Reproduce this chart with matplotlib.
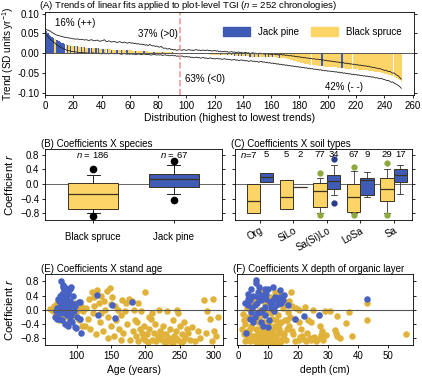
import matplotlib.pyplot as plt
from matplotlib.patches import Patch
import numpy as np

plt.rcParams['font.family'] = ['Liberation Sans', 'DejaVu Sans']
plt.rcParams['mathtext.fontset'] = 'custom'
plt.rcParams['mathtext.rm'] = 'Liberation Sans'
plt.rcParams['mathtext.it'] = 'Liberation Sans:italic'
plt.rcParams['axes.linewidth'] = 0.6
plt.rcParams['xtick.major.width'] = 0.6
plt.rcParams['ytick.major.width'] = 0.6
plt.rcParams['xtick.major.size'] = 2.5
plt.rcParams['ytick.major.size'] = 2.5

# ---- (A) sorted trends, 1e-3 SD units per year ----
trend = [55, 51, 47, 44, 41, 38, 36, 34, 32, 30,
         28, 26, 25, 23, 22, 21, 20, 19, 19, 18,
         18, 17, 17, 16, 16, 15, 15, 15, 14, 14,
         14, 13, 13, 13, 12, 12, 12, 12, 11, 11,
         11, 11, 10, 10, 10, 10, 9, 9, 9, 9,
         9, 8, 8, 8, 8, 8, 7, 7, 7, 7,
         7, 6, 6, 6, 6, 6, 5, 5, 5, 5,
         5, 5, 4, 4, 4, 4, 4, 4, 3, 3,
         3, 3, 3, 3, 2, 2, 2, 2, 2, 2,
         1, 1, 1, 1, 0, 0, -1, -1, -1, -1,
         -1, -1, -2, -2, -2, -2, -2, -2, -2, -3,
         -3, -3, -3, -3, -3, -3, -4, -4, -4, -4,
         -4, -4, -4, -5, -5, -5, -5, -5, -6, -6,
         -6, -6, -6, -7, -7, -7, -7, -7, -8, -8,
         -8, -8, -8, -8, -9, -9, -9, -9, -9, -9,
         -10, -10, -10, -10, -10, -10, -10, -11, -11, -11,
         -11, -11, -11, -12, -12, -12, -12, -12, -13, -13,
         -14, -15, -16, -17, -18, -19, -20, -21, -22, -23,
         -24, -25, -26, -27, -27, -28, -29, -29, -30, -30,
         -31, -31, -32, -32, -33, -33, -33, -34, -34, -34,
         -35, -35, -35, -36, -36, -36, -37, -37, -37, -38,
         -38, -38, -39, -39, -39, -40, -40, -40, -41, -41,
         -41, -42, -42, -43, -43, -43, -44, -44, -45, -45,
         -46, -46, -47, -47, -48, -48, -49, -50, -51, -52,
         -53, -54, -55, -56, -57, -58, -60, -61, -63, -65,
         -68, -72]
upper = [60, 58, 57, 55, 52, 50, 48, 46, 45, 44,
         43, 42, 41, 40, 40, 39, 38, 38, 37, 36,
         36, 35, 36, 35, 34, 35, 34, 33, 34, 33,
         32, 33, 34, 32, 31, 32, 33, 31, 30, 31,
         32, 34, 30, 29, 31, 30, 28, 29, 30, 28,
         27, 28, 29, 27, 26, 28, 27, 25, 26, 27,
         25, 26, 24, 25, 23, 24, 22, 23, 21, 22,
         20, 21, 19, 22, 20, 18, 19, 17, 18, 16,
         15, 17, 14, 12, 13, 11, 10, 12, 9, 10,
         8, 9, 7, 8, 9, 8, 7, 9, 8, 7,
         8, 9, 7, 8, 6, 8, 9, 7, 8, 6,
         7, 8, 6, 7, 8, 6, 7, 5, 6, 7,
         5, 6, 4, 5, 3, 4, 5, 3, 4, 2,
         3, 4, 2, 3, 1, 2, 3, 1, 2, 0,
         1, 2, 0, 1, -1, 0, 1, -1, 0, -2,
         -1, 0, -2, -1, -3, -2, -1, -3, -2, -4,
         -3, -2, -4, -3, -5, -4, -3, -5, -4, -6,
         -5, -6, -7, -6, -8, -7, -9, -8, -10, -9,
         -11, -10, -12, -11, -13, -12, -14, -13, -15, -14,
         -15, -16, -15, -17, -16, -18, -17, -19, -18, -20,
         -19, -21, -20, -22, -21, -23, -22, -24, -23, -25,
         -24, -26, -25, -27, -26, -28, -27, -29, -28, -30,
         -29, -31, -30, -32, -31, -33, -32, -34, -33, -35,
         -35, -37, -36, -38, -38, -40, -39, -41, -42, -44,
         -43, -45, -47, -46, -49, -51, -50, -54, -56, -58,
         -62, -66]
lower = [46, 42, 38, 34, 31, 28, 25, 22, 19, 17,
         15, 13, 11, 10, 8, 7, 6, 5, 4, 4,
         3, 3, 2, 2, 1, 2, 1, 0, 1, 0,
         0, -1, 0, 1, -1, 0, -1, 0, -1, -2,
         -1, 0, -2, -1, -2, -1, 0, -1, -2, -1,
         -2, -1, -2, -3, -2, -1, -2, -3, -2, -3,
         -2, -3, -2, -4, -3, -2, -3, -4, -3, -2,
         -3, -4, -3, -4, -5, -4, -3, -4, -5, -4,
         -5, -4, -6, -5, -4, -6, -5, -7, -6, -5,
         -7, -6, -8, -7, -9, -8, -7, -9, -10, -8,
         -10, -9, -11, -10, -12, -11, -10, -12, -11, -13,
         -12, -11, -13, -12, -14, -13, -12, -14, -13, -15,
         -14, -13, -15, -14, -16, -15, -14, -16, -15, -17,
         -16, -18, -17, -16, -18, -17, -19, -18, -17, -19,
         -18, -20, -19, -21, -20, -19, -21, -20, -22, -21,
         -23, -22, -21, -23, -22, -24, -23, -25, -24, -26,
         -25, -27, -26, -28, -27, -29, -28, -30, -29, -31,
         -30, -32, -31, -33, -32, -34, -33, -35, -34, -36,
         -35, -37, -36, -38, -37, -39, -38, -40, -39, -41,
         -40, -42, -41, -43, -42, -44, -43, -45, -44, -46,
         -45, -46, -47, -46, -48, -47, -49, -48, -50, -49,
         -51, -50, -52, -51, -53, -52, -54, -53, -55, -54,
         -56, -55, -57, -56, -58, -57, -59, -58, -60, -59,
         -61, -60, -62, -63, -62, -64, -65, -64, -66, -67,
         -68, -70, -69, -72, -74, -73, -76, -78, -80, -82,
         -85, -89]
# J = jack pine, B = black spruce, in sorted order
species_seq = ("JJJJJJBJJJJJJJB"
               "JBJBBJBJBBJBJBBJBJBBJBJBBJBBJBBJBBBJBBJBBBJBB"
               "BBBJBBBBBJBBBBBBJBBBBBJBBBBBBJBBBBB"
               "BBBBJBBBBBBJBBBBBBBBJBBBBBBBJBBBBJB"
               "BJBJBBJBJBBJBBJBBJBBJBBBBJBJBBJBBBBJBBBB"
               "BBBBBBBBBBBBBBBBBBBBBBBBBJBBBBBBBBBBBBBJBBBBBBBBBBBBBBBBBBBBBBBBBBBBBBBBBBBBBBBBBB")
pct_labels = ['16% (++)', '37% (>0)', '63% (<0)', '42% (- -)']

# ---- (B) coefficients by species ----
species_names = ['Black spruce', 'Jack pine']
sp_n = [186, 67]
sp_q1 = [-0.68, -0.08]
sp_med = [-0.28, 0.13]
sp_q3 = [0.03, 0.28]
sp_lo = [-0.80, -0.27]
sp_hi = [0.25, 0.52]
sp_fliers = [[0.40, -0.87], [0.63, -0.42]]

# ---- (C) coefficients by soil type ----
soil_types = ['Org', 'SiLo', 'Sa(Si)Lo', 'LoSa', 'Sa']
bs_n = [7, 5, 77, 67, 29]
bs_q1 = [-0.79, -0.69, -0.63, -0.75, -0.46]
bs_med = [-0.46, -0.36, -0.20, -0.34, -0.13]
bs_q3 = [0.00, 0.10, 0.02, 0.00, 0.18]
bs_lo = [-0.79, -0.69, -0.79, -0.79, -0.78]
bs_hi = [0.00, 0.10, 0.17, 0.36, 0.41]
bs_fliers = [[], [], [0.30, -0.84], [0.47, -0.84], [0.57, -0.84]]
jp_n = [5, 2, 34, 9, 17]
jp_q1 = [0.06, -0.09, -0.13, -0.30, 0.06]
jp_med = [0.20, -0.09, 0.09, 0.12, 0.24]
jp_q3 = [0.30, -0.09, 0.25, 0.18, 0.40]
jp_lo = [0.06, -0.09, -0.30, -0.36, -0.27]
jp_hi = [0.30, -0.09, 0.53, 0.33, 0.52]
jp_fliers = [[], [], [0.69, -0.52], [], []]

# ---- (E) coefficient vs stand age ----
age_bs = [62, 65, 67, 70, 72, 74, 76, 78, 80, 82,
          84, 86, 88, 90, 92, 94, 96, 98, 100, 102,
          104, 106, 108, 110, 75, 112, 114, 116, 118, 120,
          122, 124, 126, 128, 130, 132, 134, 136, 138, 140,
          142, 144, 146, 148, 150, 152, 154, 156, 158, 160,
          162, 164, 166, 168, 170, 172, 174, 176, 178, 180,
          135, 145, 125, 150, 165, 182, 184, 186, 188, 190,
          192, 194, 196, 198, 200, 202, 204, 206, 208, 210,
          212, 214, 216, 218, 220, 222, 224, 226, 228, 230,
          232, 234, 236, 238, 240, 242, 244, 246, 248, 250,
          252, 254, 256, 258, 260, 185, 195, 205, 215, 225,
          235, 245, 255, 190, 210, 230, 240, 200, 220, 248,
          262, 265, 268, 272, 276, 280, 285, 288, 290, 294,
          297, 300, 303, 306, 298]
r_age_bs = [0.02, -0.05, 0.10, -0.15, 0.20, -0.30, 0.05, -0.10, 0.30, -0.20,
            0.10, -0.40, 0.00, 0.15, -0.25, 0.05, -0.15, 0.20, -0.05, 0.00,
            -0.30, 0.10, -0.45, -0.05, 0.25, -0.45, 0.05, -0.25, 0.30, -0.55,
            0.50, -0.10, 0.35, -0.70, 0.55, 0.20, -0.35, 0.40, -0.60, 0.25,
            0.00, 0.52, -0.20, 0.60, -0.45, 0.35, -0.75, 0.10, -0.30, 0.00,
            -0.55, -0.15, 0.28, -0.65, -0.05, 0.20, -0.40, 0.30, -0.85, 0.25,
            -0.10, -0.80, 0.10, 0.15, -0.85, -0.60, 0.00, -0.75, -0.35, -0.90,
            -0.55, -0.05, -0.80, -0.45, 0.50, -0.70, -0.92, -0.55, -0.25, -0.85,
            -0.65, -0.40, -0.90, -0.75, 0.00, -0.60, -0.85, -0.45, -0.95, -0.70,
            -0.05, -0.80, -0.55, -0.90, -0.30, -0.75, -0.60, 0.00, -0.85, -0.45,
            -0.95, -0.70, -0.35, -0.80, -0.55, -0.30, -0.65, -0.20, -0.85, -0.70,
            -0.90, -0.80, -0.90, 0.20, -0.10, -0.85, -0.95, -0.85, -0.80, -0.10,
            -0.65, -0.85, -0.50, -0.90, -0.60, -0.80, 0.28, -0.65, -0.05, -0.25,
            -0.90, -0.60, -0.75, -0.20, 0.30]
age_jp = [78, 80, 82, 79, 85, 88, 90, 92, 95, 83,
          86, 75, 77, 72, 70, 68, 74, 81, 84, 87,
          89, 93, 96, 98, 76, 79, 83, 86, 90, 94,
          71, 73, 78, 82, 85, 88, 91, 97, 100, 104,
          106, 105, 98, 80, 84, 87, 92, 129, 131, 151,
          156, 180, 105, 99, 76, 81, 89]
r_age_jp = [0.80, 0.65, 0.55, 0.45, 0.62, 0.50, 0.58, 0.64, 0.40, 0.35,
            0.30, 0.25, 0.15, 0.05, -0.05, -0.20, -0.25, 0.10, 0.20, 0.05,
            -0.10, 0.15, -0.05, 0.10, 0.40, -0.30, -0.40, -0.15, -0.30, -0.35,
            -0.25, 0.30, 0.00, -0.10, 0.35, -0.45, 0.25, -0.50, -0.20, 0.22,
            -0.65, -0.25, 0.15, 0.70, -0.05, 0.45, -0.15, 0.42, -0.15, 0.13,
            -0.23, 0.23, 0.23, -0.53, -0.10, 0.28, 0.05]

# ---- (F) coefficient vs depth of organic layer ----
depth_bs = [56.1, 43, 43, 38.1, 36.9, 33.1, 36.1, 32.8, 32.2, 29.4,
            27.2, 24.4, 23.3, 22.2, 20.2, 20.2, 22.2, 20.6, 24.4, 26.7,
            27.8, 17.8, 16.7, 15.6, 15, 28.5, 25.5, 19, 18, 21,
            17, 19.5, 25, 30.5, 23, 1.5, 2, 2.5, 3, 3.2,
            3.5, 4, 4.2, 4.5, 5, 5.2, 5.5, 6, 6.2, 6.5,
            6.8, 7, 7.2, 7.5, 7.8, 8, 8.2, 8.5, 8.8, 9,
            9.2, 9.5, 9.8, 10, 10.2, 10.5, 10.8, 11, 11.2, 11.5,
            11.8, 12, 12.2, 12.5, 12.8, 13, 13.2, 13.5, 13.8, 14,
            14.2, 14.5, 14.8, 2.2, 3.8, 5.8, 7.6, 9.6, 11.6, 13.6,
            4.8, 6.6, 8.6, 10.6, 12.6, 14.6, 16, 16.5, 17.5, 18.5,
            3, 5, 9, 11, 13, 15, 16, 2, 7, 10,
            12, 8, 6, 4, 9.5, 15.5, 17, 18, 19, 14,
            11, 1.8, 8.4, 12.4, 16.2, 20.5, 21.5, 22.8, 24, 26,
            27, 29, 33, 34, 28]
r_depth_bs = [-0.68, 0.20, -0.30, -0.75, -0.07, -0.19, -0.37, -0.65, -0.58, -0.73,
              -0.46, -0.35, -0.30, 0.08, -0.02, -0.35, -0.87, -0.77, -0.87, -0.82,
              -0.73, 0.50, -0.07, -0.30, -0.77, -0.85, -0.78, -0.90, -0.60, -0.55,
              -0.45, 0.05, 0.00, -0.05, -0.65, -0.55, -0.68, -0.40, -0.80, -0.20,
              -0.60, -0.90, -0.45, 0.10, -0.75, -0.30, -0.85, -0.55, 0.30, -0.95,
              -0.65, -0.20, -0.80, 0.00, -0.50, -0.92, -0.70, 0.40, -0.35, -0.85,
              -0.60, -0.10, -0.95, -0.75, -0.40, 0.20, -0.88, -0.65, -0.25, -0.92,
              -0.55, 0.10, -0.80, -0.45, -0.95, -0.70, -0.15, -0.85, -0.55, 0.45,
              -0.90, -0.35, -0.65, -0.90, -0.70, -0.88, -0.60, -0.50, -0.78, -0.40,
              -0.20, -0.35, -0.15, -0.58, -0.28, 0.15, -0.85, -0.55, -0.20, -0.70,
              0.05, 0.25, 0.15, 0.35, 0.30, 0.05, 0.20, -0.30, -0.90, -0.93,
              -0.92, -0.82, -0.75, -0.55, -0.80, -0.70, 0.25, 0.10, -0.25, -0.92,
              -0.10, -0.12, 0.55, 0.50, -0.30, -0.85, -0.75, -0.90, -0.80, -0.88,
              -0.15, -0.05, -0.75, -0.80, -0.60]
depth_jp = [5.9, 6, 4.4, 3.3, 3.3, 2.8, 5, 6.7, 7.8, 8.9,
            10, 11.7, 13.9, 12.2, 10.6, 8.9, 7.2, 5.6, 7.8, 10,
            4.4, 3.9, 5.6, 13.3, 15, 16.7, 18.9, 22, 26.9, 43,
            8.3, 11.7, 13.3, 9.5, 6.5, 4.8, 9, 11, 12.5, 14,
            7, 9.5, 3.5, 5, 6.2, 8, 10.5, 12, 2.5, 15.5,
            4, 8.5, 11, 6.8, 14.5]
r_depth_jp = [0.83, 0.76, 0.59, 0.31, 0.12, -0.65, 0.40, 0.50, 0.26, 0.59,
              0.59, 0.64, 0.55, 0.36, 0.22, 0.08, -0.07, -0.21, -0.35, -0.49,
              -0.07, -0.25, 0.12, 0.31, 0.26, 0.14, -0.27, -0.18, -0.14, 0.29,
              0.41, 0.26, 0.17, 0.30, 0.20, 0.05, -0.15, 0.05, 0.10, 0.35,
              0.65, 0.45, 0.45, -0.35, -0.10, 0.00, -0.30, -0.05, 0.20, 0.42,
              0.28, -0.45, 0.15, 0.35, 0.20]

c_jp = '#3F5BB5'
c_bs = '#FDD468'
c_jp_dot = '#4862C4'
c_bs_dot = '#E0B23A'
fs = 7

fig = plt.figure(figsize=(4.22, 3.81), dpi=100)
W, H = 422, 381


def place(l, t, r, b):
    return fig.add_axes([l / W, 1 - b / H, (r - l) / W, (b - t) / H])


def frame(ax):
    ax.tick_params(axis='both', direction='out', labelsize=fs, pad=1.5,
                   right=True)


# ---------------- (A) ----------------
axA = place(45, 12, 414, 95)
pos = np.arange(1, len(trend) + 1)
bar_cols = [c_jp if s == 'J' else c_bs for s in species_seq]
axA.bar(pos, np.array(trend) / 1000, width=1.0, color=bar_cols, linewidth=0)
axA.plot(pos, np.array(upper) / 1000, color='#222222', lw=0.6)
axA.plot(pos, np.array(lower) / 1000, color='#222222', lw=0.6)
axA.axhline(0, color='#555555', lw=0.7)
axA.axvline(95.5, color='#F29A9A', ls='--', lw=1.2)
axA.set_xlim(0, 261)
axA.set_ylim(-0.106, 0.104)
axA.set_xticks(np.arange(0, 261, 20))
axA.set_yticks([-0.10, -0.05, 0.0, 0.05, 0.10])
axA.set_yticklabels(['-0.10', '-0.05', '0.00', '0.05', '0.10'])
frame(axA)
axA.text(7, 0.076, pct_labels[0], fontsize=fs, va='center')
axA.text(66, 0.048, pct_labels[1], fontsize=fs, va='center')
axA.text(99, -0.0655, pct_labels[2], fontsize=fs, va='center')
axA.text(198, -0.0855, pct_labels[3], fontsize=fs, va='center')
axA.legend(handles=[Patch(color=c_jp, label='Jack pine'),
                    Patch(color=c_bs, label='Black spruce')],
           ncol=2, frameon=False, fontsize=fs, loc='upper right',
           bbox_to_anchor=(0.99, 0.93), handlelength=2.8, handleheight=1.0,
           columnspacing=1.2, handletextpad=0.8)
axA.set_title('(A) Trends of linear fits applied to plot-level TGI ($n$ = 252 chronologies)',
              fontsize=6.8, loc='left', pad=1.0, x=-0.015)
axA.set_xlabel('Distribution (highest to lowest trends)', fontsize=7.5, labelpad=2)
axA.set_ylabel('Trend (SD units yr$^{-1}$)', fontsize=7.2)
axA.yaxis.set_label_coords(-0.078, 0.5)


def make_stats(q1, med, q3, lo, hi, fl):
    return [dict(q1=a, med=b, q3=c, whislo=d, whishi=e, fliers=f)
            for a, b, c, d, e, f in zip(q1, med, q3, lo, hi, fl)]


# ---------------- (B) ----------------
axB = place(45, 149, 222, 220)
statsB = make_stats(sp_q1, sp_med, sp_q3, sp_lo, sp_hi, sp_fliers)
bp = axB.bxp(statsB, positions=[1, 2], widths=0.62, patch_artist=True,
             showcaps=True, capwidths=0.16,
             boxprops=dict(linewidth=0.7, edgecolor='#3a3320'),
             medianprops=dict(color='#3a3320', linewidth=0.9),
             whiskerprops=dict(color='#222222', linewidth=0.7),
             capprops=dict(color='#222222', linewidth=0.7),
             flierprops=dict(marker='o', markerfacecolor='black',
                             markeredgecolor='black', markersize=4.5))
for patch, c in zip(bp['boxes'], [c_bs, c_jp]):
    patch.set_facecolor(c)
axB.axhline(0, color='#666666', lw=0.7, zorder=0)
axB.set_xlim(0.4, 2.6)
axB.set_ylim(-0.98, 0.96)
axB.set_yticks([-0.8, -0.4, 0.0, 0.4, 0.8])
axB.set_xticks([1, 2])
axB.set_xticklabels(species_names, fontsize=7.5)
frame(axB)
axB.tick_params(axis='x', pad=6)
for p, n in zip([1, 2], sp_n):
    axB.text(p, 0.80, '$n$ = %d' % n, ha='center', va='center', fontsize=6.8)
axB.set_title('(B) Coefficients X species', fontsize=fs, loc='left', pad=1.5, x=-0.02)
axB.set_ylabel('Coefficient $r$', fontsize=8.2)
axB.yaxis.set_label_coords(-0.17, 0.5)

# ---------------- (C) ----------------
axC = place(235, 149, 412, 220)
grp = np.arange(1, len(soil_types) + 1)
statsC_bs = make_stats(bs_q1, bs_med, bs_q3, bs_lo, bs_hi, bs_fliers)
statsC_jp = make_stats(jp_q1, jp_med, jp_q3, jp_lo, jp_hi, jp_fliers)
for stats, off, col, fcol in [(statsC_bs, -0.2, c_bs, '#8FA83C'),
                              (statsC_jp, 0.2, c_jp, '#283C8C')]:
    b = axC.bxp(stats, positions=grp + off, widths=0.4, patch_artist=True,
                capwidths=0.18,
                boxprops=dict(linewidth=0.7, edgecolor='#3a3320'),
                medianprops=dict(color='#3a3320', linewidth=0.9),
                whiskerprops=dict(color='#333333', linewidth=0.6),
                capprops=dict(color='#333333', linewidth=0.6),
                flierprops=dict(marker='o', markerfacecolor=fcol,
                                markeredgecolor=fcol, markersize=3.5))
    for patch in b['boxes']:
        patch.set_facecolor(col)
axC.axhline(0, color='#666666', lw=0.7, zorder=0)
axC.set_xlim(0.25, 5.55)
axC.set_ylim(-0.98, 0.96)
axC.set_yticks([-0.8, -0.4, 0.0, 0.4, 0.8])
axC.set_yticklabels([])
axC.set_xticks(grp)
axC.set_xticklabels(soil_types, rotation=30, ha='right', rotation_mode='anchor',
                    fontsize=7.5)
frame(axC)
for i in range(len(soil_types)):
    if i == 0:
        axC.text(grp[i] - 0.2 + 0.12, 0.80, '$n$=%d' % bs_n[i], ha='right',
                 va='center', fontsize=6.8)
    else:
        axC.text(grp[i] - 0.2, 0.80, str(bs_n[i]), ha='center', va='center',
                 fontsize=6.8)
    axC.text(grp[i] + 0.2, 0.80, str(jp_n[i]), ha='center', va='center', fontsize=6.8)
axC.set_title('(C) Coefficients X soil types', fontsize=fs, loc='left', pad=1.5, x=-0.02)

# ---------------- (E) ----------------
axE = place(45, 274, 223, 345)
axE.scatter(age_bs, r_age_bs, s=22, color=c_bs_dot, linewidths=0)
axE.scatter(age_jp, r_age_jp, s=22, color=c_jp_dot, linewidths=0)
axE.axhline(0, color='#555555', lw=0.8)
axE.set_xlim(54, 313)
axE.set_ylim(-1.0, 1.01)
axE.set_yticks([-0.8, -0.4, 0.0, 0.4, 0.8])
axE.set_xticks([100, 150, 200, 250, 300])
frame(axE)
axE.set_title('(E) Coefficients X stand age', fontsize=fs, loc='left', pad=1.5, x=-0.02)
axE.set_xlabel('Age (years)', fontsize=7.5, labelpad=3)
axE.set_ylabel('Coefficient $r$', fontsize=8.2)
axE.yaxis.set_label_coords(-0.17, 0.5)

# ---------------- (F) ----------------
axF = place(237, 274, 413, 345)
axF.scatter(depth_bs, r_depth_bs, s=22, color=c_bs_dot, linewidths=0)
axF.scatter(depth_jp, r_depth_jp, s=22, color=c_jp_dot, linewidths=0)
axF.axhline(0, color='#555555', lw=0.8)
axF.set_xlim(-0.3, 58.3)
axF.set_ylim(-1.0, 1.01)
axF.set_yticks([-0.8, -0.4, 0.0, 0.4, 0.8])
axF.set_yticklabels([])
axF.set_xticks([0, 10, 20, 30, 40, 50])
frame(axF)
axF.set_title('(F) Coefficients X depth of organic layer', fontsize=fs, loc='left',
              pad=1.5, x=-0.02)
axF.set_xlabel('depth (cm)', fontsize=7.5, labelpad=3)

fig.savefig('out.png', dpi=100)
